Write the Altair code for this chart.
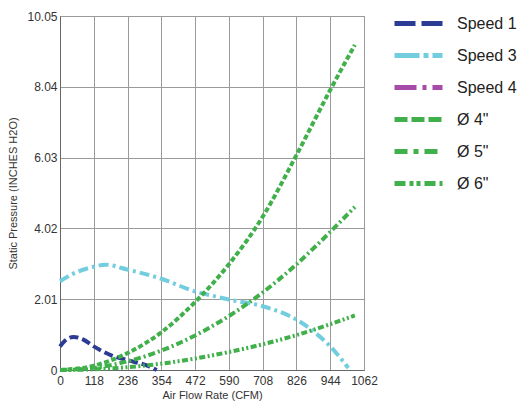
import altair as alt
import pandas as pd

series_names = ["Speed 1", "Speed 3", "Speed 4", "Ø 4\"", "Ø 5\"", "Ø 6\""]

speed1_cfm = [0, 20, 47, 80, 118, 181, 236, 309, 338]
speed1_sp = [0.67, 0.85, 0.94, 0.87, 0.67, 0.41, 0.28, 0.11, 0.0]

speed3_cfm = [0, 50, 118, 158, 236, 354, 472, 542, 590, 708, 826, 885, 944, 1007]
speed3_sp = [2.52, 2.75, 2.93, 2.99, 2.85, 2.59, 2.23, 2.09, 2.0, 1.81, 1.43, 1.10, 0.67, 0.06]

duct_cfm = [0, 118, 236, 354, 472, 590, 708, 826, 944, 1030]
d4_sp = [0, 0.12, 0.48, 1.07, 1.93, 3.0, 4.35, 6.1, 7.95, 9.23]
d5_sp = [0, 0.06, 0.245, 0.55, 0.98, 1.53, 2.2, 3.0, 3.92, 4.63]
d6_sp = [0, 0.02, 0.08, 0.18, 0.325, 0.51, 0.73, 0.99, 1.30, 1.55]

x_ticks = [0, 118, 236, 354, 472, 590, 708, 826, 944, 1062]
y_ticks = [0, 2.01, 4.02, 6.03, 8.04, 10.05]

colors = ["#2c3b94", "#72cddf", "#a64ca8", "#40b04b", "#40b04b", "#40b04b"]
plot_dashes = [[9, 4], [10, 4, 3, 4], [10, 4, 3, 4, 3, 4], [5, 2.5], [7, 3, 2, 3], [6, 2.5, 2, 2.5, 2, 2.5]]
plot_widths = [4, 4, 4, 3.5, 2.5, 3]
legend_dashes = [[21, 6], [25, 4, 5, 4], [22, 6, 4, 6], [13, 4], [13, 6, 5, 6], [11, 4, 4, 3, 4, 4]]

rows = []
for name, xs, ys in [
    ("Speed 1", speed1_cfm, speed1_sp),
    ("Speed 3", speed3_cfm, speed3_sp),
    ("Ø 4\"", duct_cfm, d4_sp),
    ("Ø 5\"", duct_cfm, d5_sp),
    ("Ø 6\"", duct_cfm, d6_sp),
]:
    for xv, yv in zip(xs, ys):
        rows.append({"series": name, "cfm": xv, "sp": yv})
df = pd.DataFrame(rows)

x_enc = alt.X("cfm:Q", scale=alt.Scale(domain=[0, 1062], nice=False, zero=False),
              axis=alt.Axis(values=x_ticks, title="Air Flow Rate (CFM)", format="d",
                            labelFlush=False, labelOverlap=False))
y_enc = alt.Y("sp:Q", scale=alt.Scale(domain=[0, 10.05], nice=False),
              axis=alt.Axis(values=y_ticks, title="Static Pressure (INCHES H2O)", labelFlush=False,
                            labelExpr="datum.value == 0 ? '0' : format(datum.value, '.2f')"))

lines = alt.Chart(df).mark_line(interpolate="monotone").encode(
    x=x_enc,
    y=y_enc,
    color=alt.Color("series:N", scale=alt.Scale(domain=series_names, range=colors), legend=None),
    strokeDash=alt.StrokeDash("series:N", scale=alt.Scale(domain=series_names, range=plot_dashes), legend=None),
    strokeWidth=alt.StrokeWidth("series:N", scale=alt.Scale(domain=series_names, range=plot_widths), legend=None),
)

leg = alt.Legend(title=None, orient="none", legendX=344, legendY=-7, symbolType="M-2,0H2",
                 symbolSize=576, symbolStrokeWidth=5, labelFontSize=16, labelFont="Liberation Sans",
                 labelColor="#222222", labelOffset=24, rowPadding=7)

legend_layer = alt.Chart(df).transform_filter("datum.cfm < 0").mark_line().encode(
    x=x_enc,
    y=y_enc,
    color=alt.Color("series:N", scale=alt.Scale(domain=series_names, range=colors), legend=leg),
    strokeDash=alt.StrokeDash("series:N", scale=alt.Scale(domain=series_names, range=legend_dashes), legend=leg),
)

chart = alt.layer(lines, legend_layer).resolve_scale(
    color="independent", strokeDash="independent"
).properties(
    width=304, height=354,
    autosize=alt.AutoSizeParams(type="none"),
    padding={"left": 52, "top": 8, "right": 160, "bottom": 38},
).configure_view(stroke="#999999", strokeWidth=1).configure_axis(
    grid=True, gridColor="#9a9a9a", gridWidth=1, gridOpacity=1,
    domainColor="#666666", ticks=False, labelFont="Liberation Sans", labelFontSize=12,
    labelColor="#333333", titleFont="Liberation Sans", titleFontSize=11, titleFontWeight="normal",
    titleColor="#333333",
).configure_axisX(labelPadding=5, titlePadding=3).configure_axisY(labelPadding=3, titlePadding=8)

chart.save("out.html", embed_options={"renderer": "svg", "actions": False})
